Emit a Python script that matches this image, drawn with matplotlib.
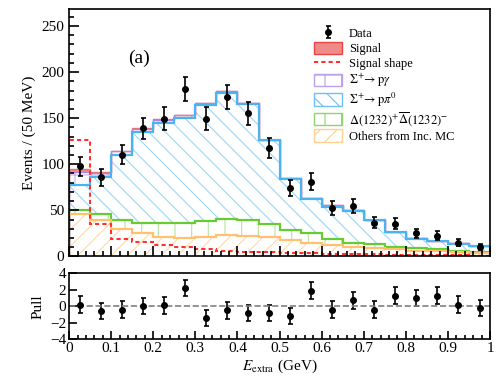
import numpy as np
import matplotlib
matplotlib.use("Agg")
import matplotlib.pyplot as plt
from matplotlib.patches import Patch
from matplotlib.lines import Line2D
from matplotlib.ticker import MultipleLocator

plt.rcParams['font.family'] = ['Liberation Serif', 'DejaVu Serif']
plt.rcParams['mathtext.fontset'] = 'stix'
plt.rcParams['hatch.linewidth'] = 0.8

# 20 bins of 50 MeV in E_extra
edges = np.linspace(0.0, 1.0, 21)
centers = 0.5 * (edges[:-1] + edges[1:])

# stacked components (bottom to top)
others = [46.2, 39.7, 30.2, 25.2, 21.5, 19.8, 21.5, 23.4, 22.6, 21.0,
          17.9, 14.3, 12.1, 10.7, 8.9, 7.8, 6.3, 5.6, 4.5, 4.2]
delta = [4.5, 6.5, 9.3, 11.6, 14.6, 16.3, 16.8, 17.0, 16.9, 14.3,
         10.9, 10.9, 6.6, 4.3, 4.3, 2.9, 2.6, 2.2, 1.8, 1.0]
sig_ppi0 = [27.0, 39.5, 70.8, 98.2, 108.6, 114.1, 125.7, 137.0, 125.9, 90.6,
            55.2, 36.8, 35.3, 34.5, 25.8, 15.8, 10.4, 8.5, 7.5, 6.1]
sig_pgamma = [13.8, 4.8, 3.6, 3.6, 3.7, 2.8, 2.5, 1.7, 1.1, 0.7,
              1.0, 1.2, 1.5, 1.0, 0.6, 0.4, 0.3, 0.4, 0.4, 0.3]
signal = [3.3, 0.7, 0.4, 0.3, 0.3, 0.2, 0.2, 0.2, 0.1, 0.1,
          0.1, 0.1, 0.1, 0.1, 0.1, 0.1, 0.1, 0.1, 0.1, 0.1]

signal_shape = [126.6, 35.0, 19.0, 16.1, 12.5, 10.7, 8.2, 6.3, 5.2, 4.5,
                4.0, 3.5, 3.0, 2.5, 2.2, 2.0, 1.7, 1.5, 1.2, 1.0]

data = [97.6, 85.7, 110.3, 138.9, 149.5, 181.7, 149.5, 172.6, 155.6, 117.9,
        74.1, 81.0, 52.4, 54.9, 36.8, 35.3, 25.2, 22.6, 15.0, 10.7]

pull = [0.2, -0.6, -0.4, 0.0, 0.1, 2.2, -1.4, -0.5, -0.8, -0.8,
        -1.2, 1.9, -0.4, 0.7, -0.4, 1.3, 1.0, 1.3, 0.2, -0.2]

fig = plt.figure(figsize=(4.97, 3.76), dpi=100)
ax = fig.add_axes([0.139, 0.318, 0.847, 0.657])
axp = fig.add_axes([0.139, 0.098, 0.847, 0.175])

# stacking: (values, hatch, hatch colour, line colour)
layers = [
    (others, '//', '#ffd9a8', '#ffc070'),
    (delta, '|', '#b5e3a0', '#66cc33'),
    (sig_ppi0, '\\\\', '#9cd6f5', '#4db3f0'),
    (sig_pgamma, '+', '#c9b3ee', '#a88ae6'),
]
base = np.zeros(20)
tops = []
for vals, hatch, hcol, lcol in layers:
    top = base + np.array(vals)
    ax.stairs(top, edges, baseline=base, fill=True, facecolor='none',
              edgecolor=hcol, hatch=hatch, linewidth=0)
    tops.append((top, lcol))
    base = top
sig_top = base + np.array(signal)
ax.stairs(sig_top, edges, baseline=base, fill=True, facecolor='#f08a8a',
          edgecolor='none')
ax.stairs(sig_top, edges, color='#f07070', linewidth=1.0)
for t, lcol in reversed(tops):
    lw = 1.0 if lcol == '#a88ae6' else 1.6
    ax.stairs(t, edges, color=lcol, linewidth=lw)

ax.stairs(signal_shape, edges, color='#ff3030', linestyle=(0, (2, 1.5)),
          linewidth=1.5)

data_eb = ax.errorbar(centers, data, yerr=np.sqrt(data), fmt='o',
                      color='black', markersize=4, capsize=1.8,
                      elinewidth=1.2, capthick=1.2)

ax.set_xlim(0, 1)
ax.set_ylim(0, 268)
ax.set_ylabel('Events / (50 MeV)', fontsize=11)
ax.yaxis.set_major_locator(MultipleLocator(50))
ax.yaxis.set_minor_locator(MultipleLocator(10))
ax.xaxis.set_major_locator(MultipleLocator(0.1))
ax.xaxis.set_minor_locator(MultipleLocator(0.02))
ax.tick_params(which='both', direction='in', top=False, right=False,
               labelsize=11, width=1.2)
ax.tick_params(which='major', length=7)
ax.tick_params(which='minor', length=3.5)
ax.tick_params(axis='x', labelbottom=False)
ax.text(0.165, 0.80, '(a)', transform=ax.transAxes, fontsize=14,
        ha='center', va='center')
for s in ax.spines.values():
    s.set_linewidth(1.2)

handles = [
    data_eb,
    Patch(facecolor='#f08a8a', edgecolor='#e84545'),
    Line2D([], [], color='#ff3030', linestyle=(0, (2, 1.5)), linewidth=1.5),
    Patch(facecolor='white', edgecolor='#b9a0ee', hatch='+'),
    Patch(facecolor='white', edgecolor='#6cc0f2', hatch='\\\\'),
    Patch(facecolor='white', edgecolor='#8fd46a', hatch='|'),
    Patch(facecolor='white', edgecolor='#ffd090', hatch='//'),
]
labels = ['Data', 'Signal', 'Signal shape',
          r'$\Sigma^{+}\!\rightarrow\mathrm{p}\gamma$',
          r'$\Sigma^{+}\!\rightarrow\mathrm{p}\pi^{0}$',
          r'$\Delta(1232)^{+}\overline{\Delta}(1232)^{-}$',
          'Others from Inc. MC']
ax.legend(handles, labels, loc='upper left', bbox_to_anchor=(0.57, 0.95),
          frameon=False, fontsize=9, handlelength=2.2, handleheight=1.15,
          labelspacing=0.12, handletextpad=0.6, borderaxespad=0)

axp.errorbar(centers, pull, yerr=np.ones(20), fmt='o', color='black',
             markersize=4, capsize=1.8, elinewidth=1.2, capthick=1.2)
axp.axhline(0, color='gray', linestyle='--', linewidth=1.2)
axp.set_xlim(0, 1)
axp.set_ylim(-4, 4)
axp.set_yticks([-4, -2, 0, 2, 4])
axp.set_yticklabels(['\u22124', '\u22122', '0', '2', '4'])
axp.xaxis.set_minor_locator(MultipleLocator(0.02))
axp.set_xticks(np.arange(0, 1.01, 0.1))
axp.set_xticklabels(['0', '0.1', '0.2', '0.3', '0.4', '0.5', '0.6', '0.7',
                     '0.8', '0.9', '1'])
axp.tick_params(which='both', direction='in', top=False, right=False,
                labelsize=11, width=1.2, pad=2)
axp.tick_params(which='major', length=6)
axp.tick_params(which='minor', length=3)
axp.set_ylabel('Pull', fontsize=11)
axp.set_xlabel(r'$E_{\rm extra}$ (GeV)', fontsize=11, labelpad=2)
for s in axp.spines.values():
    s.set_linewidth(1.2)
fig.align_ylabels([ax, axp])

fig.savefig('out.png', dpi=100)
